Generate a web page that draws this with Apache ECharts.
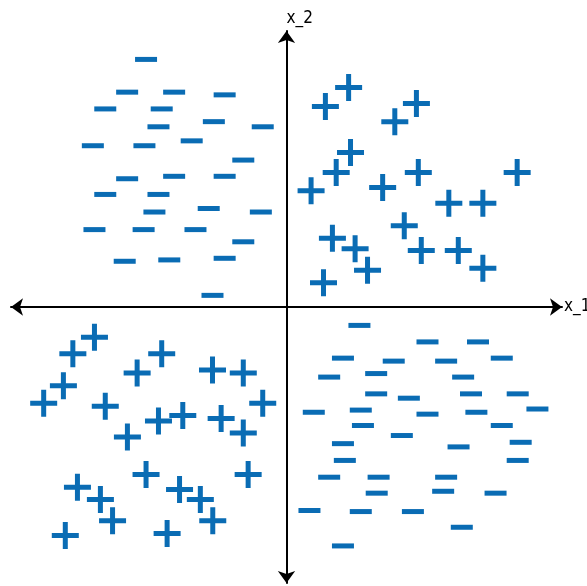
<!DOCTYPE html>
<html>
<head>
<meta charset="utf-8">
<script src="https://cdn.jsdelivr.net/npm/echarts@6/dist/echarts.min.js"></script>
<style>html,body{margin:0;padding:0;background:#fff;}#chart{width:587px;height:586px;}</style>
</head>
<body>
<div id="chart"></div>
<script>
// Axis labels
var xAxisName = 'x_1';
var yAxisName = 'x_2';

// Class "+" points [x_1, x_2]
var plusTopRight = [
  [1.44, 7.41], [2.30, 8.11], [4.01, 6.85], [4.81, 7.52], [2.37, 5.71],
  [1.84, 4.97], [0.91, 4.30], [3.56, 4.42], [4.88, 4.97], [8.54, 4.97],
  [6.01, 3.83], [7.27, 3.83], [4.36, 3.00], [1.70, 2.54], [2.54, 2.15],
  [4.99, 2.09], [6.36, 2.09], [3.00, 1.36], [7.27, 1.43], [1.37, 0.90]
];
var plusBottomLeft = [
  [-7.11, -1.12], [-7.91, -1.73], [-4.62, -1.73], [-5.53, -2.44], [-8.26, -2.91],
  [-2.74, -2.33], [-1.60, -2.44], [-8.99, -3.56], [-6.71, -3.67], [-0.88, -3.56],
  [-4.74, -4.21], [-3.84, -4.01], [-2.42, -4.12], [-5.89, -4.80], [-1.60, -4.66],
  [-5.20, -6.19], [-1.42, -6.19], [-7.74, -6.66], [-6.89, -7.11], [-3.96, -6.74],
  [-3.19, -7.11], [-6.44, -7.90], [-2.73, -7.90], [-8.19, -8.44], [-4.42, -8.37]
];

// Class "-" points [x_1, x_2]
var minusTopLeft = [
  [-5.20, 9.15], [-5.90, 7.94], [-4.16, 7.94], [-2.29, 7.84], [-6.71, 7.32],
  [-4.62, 7.32], [-4.74, 6.66], [-2.69, 6.85], [-0.88, 6.66], [-7.17, 5.96],
  [-5.26, 5.96], [-3.51, 6.14], [-1.60, 5.43], [-5.90, 4.74], [-4.16, 4.83],
  [-2.29, 4.83], [-6.71, 4.16], [-4.74, 4.16], [-4.89, 3.51], [-2.88, 3.64],
  [-0.95, 3.51], [-7.11, 2.86], [-5.29, 2.86], [-3.37, 2.86], [-1.60, 2.41],
  [-5.99, 1.69], [-4.34, 1.74], [-2.29, 1.80], [-2.74, 0.43]
];
var minusBottomRight = [
  [2.70, -0.68], [5.22, -1.29], [7.09, -1.29], [2.09, -1.89], [3.97, -2.00],
  [5.91, -2.00], [7.97, -1.89], [1.58, -2.59], [3.32, -2.46], [6.54, -2.59],
  [3.32, -3.21], [4.53, -3.37], [6.83, -3.21], [8.56, -3.21], [1.01, -3.89],
  [2.75, -3.81], [5.22, -3.96], [7.03, -3.89], [9.29, -3.77], [2.83, -4.38],
  [7.97, -4.38], [4.27, -4.75], [2.09, -5.05], [6.37, -5.17], [8.67, -5.00],
  [2.16, -5.67], [8.56, -5.67], [1.58, -6.29], [3.41, -6.29], [5.91, -6.29],
  [3.34, -6.88], [5.80, -6.81], [7.74, -6.88], [0.85, -7.52], [2.75, -7.56],
  [4.68, -7.56], [6.49, -8.14], [2.09, -8.83]
];

var markColor = '#0a6cb4';
var plusPath = 'path://M0,11H27V16H0Z M11,0H16V27H11Z';

var chart = echarts.init(document.getElementById('chart'), null, {renderer: 'canvas'});
var axisCommon = {
  type: 'value',
  min: -10.2,
  max: 10.2,
  axisLine: {
    show: true,
    onZero: true,
    symbol: ['arrow', 'arrow'],
    symbolSize: [13, 12],
    lineStyle: {color: '#000', width: 2}
  },
  axisTick: {show: false},
  axisLabel: {show: false},
  splitLine: {show: false}
};
chart.setOption({
  animation: false,
  backgroundColor: '#fff',
  grid: {left: 11, right: 25, top: 31, bottom: 3, containLabel: false, outerBoundsMode: 'none'},
  xAxis: Object.assign({}, axisCommon, {
    name: xAxisName,
    nameLocation: 'end',
    nameGap: 2,
    nameTextStyle: {color: '#000', fontSize: 17, fontFamily: 'DejaVu Sans Condensed', padding: [0, 0, 14, 0]}
  }),
  yAxis: Object.assign({}, axisCommon, {
    name: yAxisName,
    nameLocation: 'end',
    nameGap: 4,
    nameTextStyle: {color: '#000', fontSize: 17, fontFamily: 'DejaVu Sans Condensed', align: 'left'}
  }),
  series: [
    {
      type: 'scatter', name: '+',
      data: plusTopRight.concat(plusBottomLeft),
      symbol: plusPath, symbolSize: [27, 27],
      itemStyle: {color: markColor, opacity: 1}
    },
    {
      type: 'scatter', name: '-',
      data: minusTopLeft.concat(minusBottomRight),
      symbol: 'rect', symbolSize: [22, 5],
      itemStyle: {color: markColor, opacity: 1}
    }
  ]
});
</script>
</body>
</html>
